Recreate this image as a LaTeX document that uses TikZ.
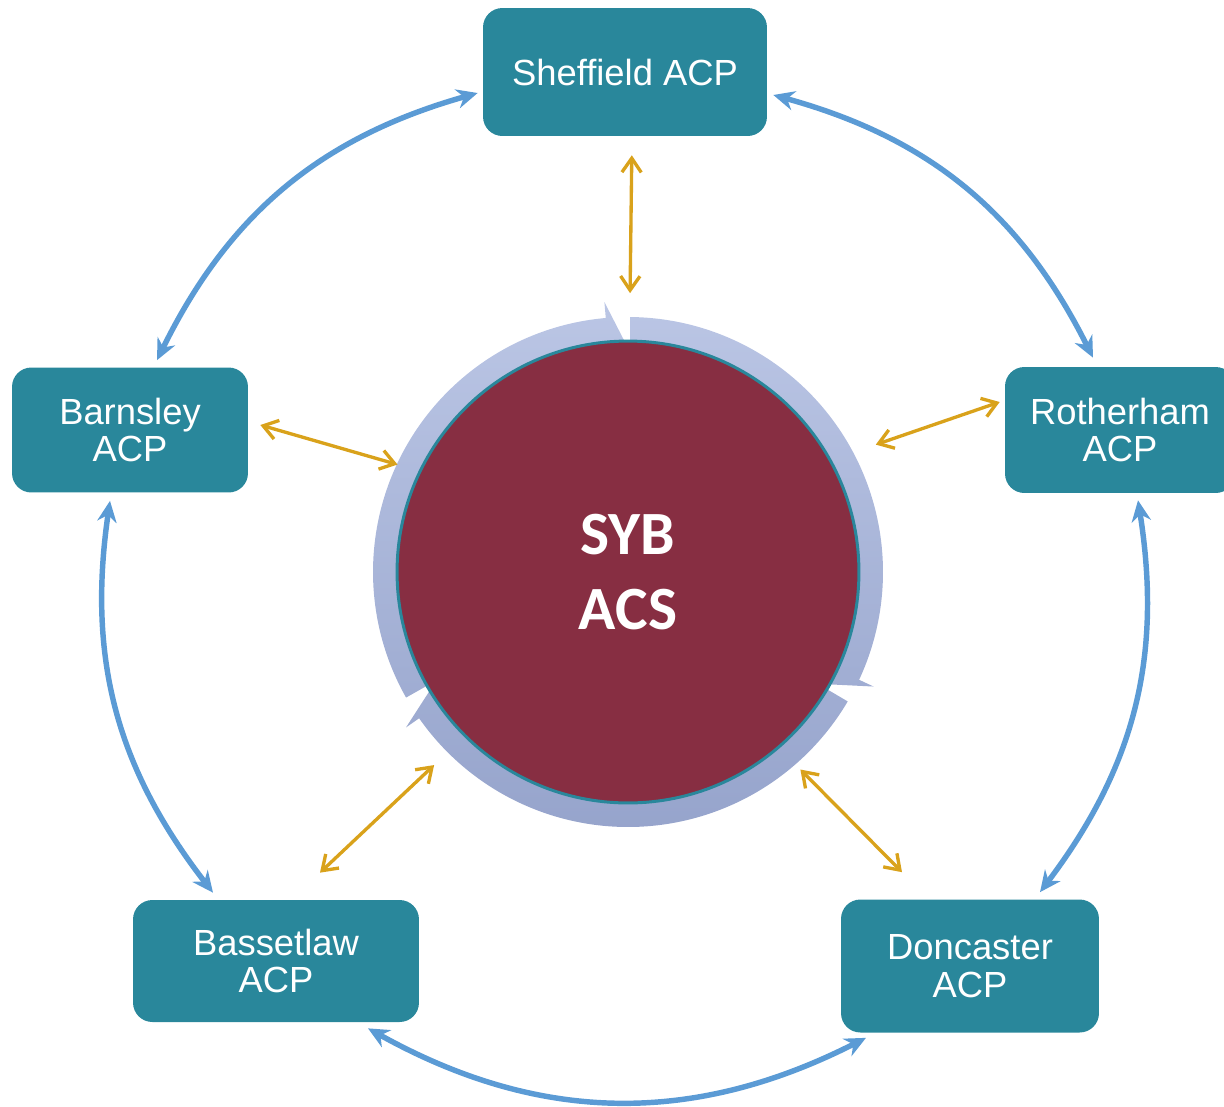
\documentclass[tikz,border=0pt]{standalone}
\usepackage{fontspec}
\setmainfont{Liberation Sans}
\newfontfamily\sybfont{Carlito}
\usepackage{tikz}
\usetikzlibrary{arrows.meta}
\definecolor{acpteal}{HTML}{29879B}
\definecolor{acsred}{HTML}{872E42}
\definecolor{ringtop}{HTML}{BBC6E5}
\definecolor{ringbot}{HTML}{95A3CB}
\definecolor{linkblue}{HTML}{5B9BD5}
\definecolor{linkgold}{HTML}{D9A21B}

\begin{document}
\begin{tikzpicture}[x=0.02cm, y=0.02cm,
    acp/.style={rectangle, rounded corners=11pt, fill=acpteal, text=white,
      align=center, inner sep=0pt, font=\fontsize{20.7}{21.5}\selectfont},
    acplink/.style={linkblue, line width=3.1pt,
      {Stealth[length=12pt,width=11pt]}-{Stealth[length=12pt,width=11pt]}},
    acslink/.style={linkgold, line width=1.9pt,
      {Straight Barb[length=8pt,width=11pt]}-{Straight Barb[length=8pt,width=11pt]}}]
  \useasboundingbox (0,0) rectangle (1224,-1106);

  % cycle round the centre
  \begin{scope}[shift={(628,-572)}]
    \foreach \t in {90,-30,-150}
      \path[path picture={\shade[top color=ringtop, bottom color=ringbot] (-275,-275) rectangle (275,275);}]
        ({\t+119.5}:255) arc[start angle=\t+119.5, end angle=\t+5, radius=255]
        -- ({\t+5}:271) -- (\t:224)
        arc[start angle=\t, end angle=\t+119.5, radius=224] -- cycle;
  \end{scope}
  \node (ring) at (628,-572) [circle, minimum size=10.16cm, inner sep=0pt] {};
  \node (acs) at (ring) [circle, fill=acsred, draw=acpteal, line width=1.7pt,
    minimum size=9.24cm, inner sep=0pt] {};
  \node (acslabel) at (acs) [text=white, align=center,
    font=\sybfont\bfseries\fontsize{35}{42.5}\selectfont] {SYB\\ACS};

  \node (shef) at (625,-72) [acp, minimum width=5.68cm, minimum height=2.56cm] {Sheffield ACP};
  \node (barn) at (130,-430) [acp, minimum width=4.72cm, minimum height=2.5cm] {Barnsley\\ACP};
  \node (roth) at (1120,-430) [acp, minimum width=4.6cm, minimum height=2.52cm] {Rotherham\\ACP};
  \node (bass) at (276,-961) [acp, minimum width=5.72cm, minimum height=2.44cm] {Bassetlaw\\ACP};
  \node (donc) at (970,-966) [acp, minimum width=5.16cm, minimum height=2.66cm] {Doncaster\\ACP};

  \path[acplink]
    ([shift={(-5,-21)}]shef.west) edge[bend right=24] ([shift={(27,7)}]barn.north)
    ([shift={(-20,-8)}]barn.south) edge[bend right=23] ([shift={(-63,7)}]bass.north)
    ([shift={(92,-6)}]bass.south) edge[bend right=28] ([shift={(-104,-5)}]donc.south)
    ([shift={(70,7)}]donc.north) edge[bend right=23] ([shift={(18,-7)}]roth.south)
    ([shift={(-27,9)}]roth.north) edge[bend right=24] ([shift={(6,-23)}]shef.east);
  \path[acslink]
    ([xshift=4]shef.south) edge[shorten <=10.8pt, shorten >=14pt] ([xshift=1]ring.north)
    ([shift={(12,5)}]barn.east) edge (ring.155)
    ([shift={(-5,28)}]roth.west) edge[shorten >=14pt] (ring.28)
    ([shift={(44,27)}]bass.north) edge[shorten >=11pt] (ring.225)
    ([shift={(-68,27)}]donc.north) edge[shorten >=4.5pt] (ring.-49);
\end{tikzpicture}
\end{document}
